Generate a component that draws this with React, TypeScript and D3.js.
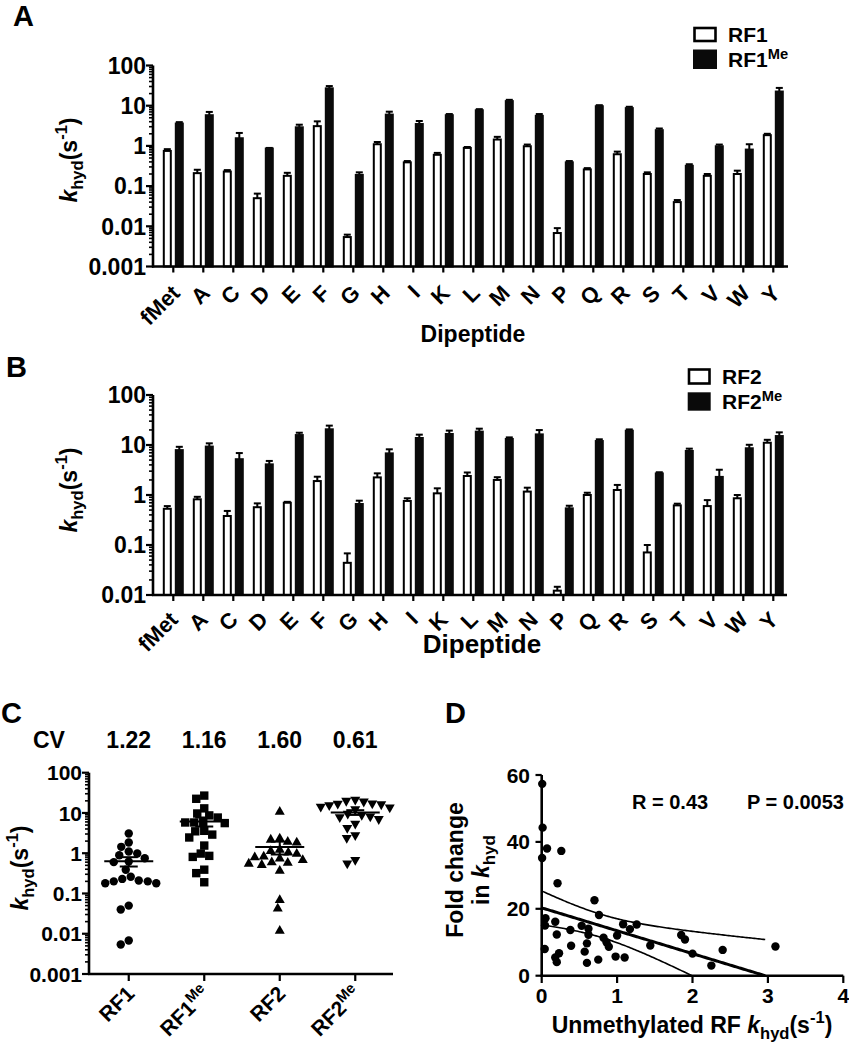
import React from "react";
import * as d3 from "d3";

const FONT = '"Liberation Sans", Arial, Helvetica, sans-serif';

// ---------- data ----------
const dipeptides = ["fMet", "A", "C", "D", "E", "F", "G", "H", "I", "K", "L", "M", "N", "P", "Q", "R", "S", "T", "V", "W", "Y"];
const rf1 = [0.75, 0.21, 0.23, 0.05, 0.18, 3.1, 0.0054, 1.1, 0.39, 0.6, 0.89, 1.44, 0.98, 0.0068, 0.26, 0.62, 0.2, 0.04, 0.18, 0.2, 1.85];
const rf1Err = [0.08, 0.045, 0.02, 0.015, 0.034, 0.98, 0.0008, 0.15, 0.03, 0.07, 0.05, 0.24, 0.1, 0.0022, 0.02, 0.1, 0.02, 0.005, 0.02, 0.042, 0.15];
const rf1Me = [3.6, 5.8, 1.55, 0.86, 2.9, 27, 0.19, 6, 3.5, 5.8, 7.7, 13, 5.6, 0.39, 9.7, 8.7, 2.46, 0.32, 0.98, 0.81, 22.5];
const rf1MeErr = [0.3, 1.2, 0.55, 0.03, 0.47, 3.8, 0.03, 1.1, 0.66, 0.4, 0.5, 1, 0.6, 0.03, 0.6, 0.7, 0.25, 0.03, 0.1, 0.29, 5.2];
const rf2 = [0.53, 0.82, 0.38, 0.57, 0.7, 1.9, 0.044, 2.25, 0.76, 1.08, 2.4, 2.0, 1.17, 0.0122, 1.0, 1.26, 0.071, 0.62, 0.6, 0.86, 11.1];
const rf2Err = [0.07, 0.1, 0.1, 0.11, 0.03, 0.42, 0.024, 0.46, 0.1, 0.28, 0.42, 0.27, 0.23, 0.0024, 0.11, 0.33, 0.029, 0.05, 0.19, 0.14, 1.6];
const rf2Me = [7.9, 9.3, 5.2, 4.1, 15.8, 20.6, 0.66, 6.8, 13.8, 16.6, 18.5, 13.2, 16.3, 0.54, 12, 19.3, 2.7, 7.6, 2.3, 8.6, 15.1];
const rf2MeErr = [1.3, 1.5, 1.7, 0.7, 1.8, 3.8, 0.11, 1.4, 2.3, 2.8, 2.7, 1.0, 3.6, 0.07, 1.0, 1.2, 0.15, 0.85, 0.9, 1.5, 2.8];

const logTicksA = [0.001, 0.01, 0.1, 1, 10, 100];
const logLabelsA = ["0.001", "0.01", "0.1", "1", "10", "100"];
const logTicksB = [0.01, 0.1, 1, 10, 100];
const logLabelsB = ["0.01", "0.1", "1", "10", "100"];
const groupsC = ["RF1", "RF1Me", "RF2", "RF2Me"];
const cvLabels = ["1.22", "1.16", "1.60", "0.61"];
const foldTicksY = [0, 20, 40, 60];
const foldTicksX = [0, 1, 2, 3, 4];
const statLabels = ["R = 0.43", "P = 0.0053"];

// ---------- helpers ----------
function KHyd({ fs }: { fs: number }) {
  const sub = fs * 0.72;
  return (
    <>
      <tspan fontStyle="italic">k</tspan>
      <tspan fontSize={sub} dy={fs * 0.28}>hyd</tspan>
      <tspan dy={-fs * 0.28}>(s</tspan>
      <tspan fontSize={sub} dy={-fs * 0.42}>-1</tspan>
      <tspan dy={fs * 0.42}>)</tspan>
    </>
  );
}

function Me({ fs }: { fs: number }) {
  return <tspan fontSize={fs * 0.7} dy={-fs * 0.4}>Me</tspan>;
}

function LogYAxis({ y, x, lo, hi, ticks, labels, fs, gap }: any) {
  const minors: number[] = [];
  const e0 = Math.round(Math.log10(lo));
  const e1 = Math.round(Math.log10(hi));
  for (let e = e0; e < e1; e++) for (let m = 2; m <= 9; m++) minors.push(m * Math.pow(10, e));
  return (
    <g>
      <line x1={x} x2={x} y1={y(lo) + 1} y2={y(hi)} stroke="#000" strokeWidth={2.6} />
      {minors.map((v, i) => (
        <line key={"m" + i} x1={x - 4} x2={x} y1={y(v)} y2={y(v)} stroke="#000" strokeWidth={1.6} />
      ))}
      {ticks.map((v: number, i: number) => (
        <g key={"t" + i}>
          <line x1={x - 7} x2={x} y1={y(v)} y2={y(v)} stroke="#000" strokeWidth={2.2} />
          <text x={x - gap} y={y(v)} dy="0.36em" textAnchor="end" fontSize={fs} fontWeight="bold">
            {labels[i]}
          </text>
        </g>
      ))}
    </g>
  );
}

function BarPanel({ x, y, lo, un, unErr, me, meErr, axisX0, axisX1, labFs, labDx, labDy }: any) {
  const base = y(lo);
  return (
    <g>
      {dipeptides.map((d, i) => {
        const c = (x(d) as number) + x.bandwidth() / 2;
        const wTop = y(un[i]);
        const wErr = y(un[i] + unErr[i]);
        const bTop = y(me[i]);
        const bErr = y(me[i] + meErr[i]);
        const wc = c - 6;
        const bc = c + 6;
        return (
          <g key={d}>
            <line x1={wc} x2={wc} y1={wTop} y2={wErr} stroke="#000" strokeWidth={2} />
            <line x1={wc - 3.5} x2={wc + 3.5} y1={wErr} y2={wErr} stroke="#000" strokeWidth={2} />
            <rect x={c - 9.5} y={wTop} width={7} height={base - wTop} fill="#fff" stroke="#000" strokeWidth={2} />
            <line x1={bc} x2={bc} y1={bTop} y2={bErr} stroke="#000" strokeWidth={2} />
            <line x1={bc - 3.5} x2={bc + 3.5} y1={bErr} y2={bErr} stroke="#000" strokeWidth={2} />
            <rect x={c + 2.5} y={bTop} width={7} height={base - bTop} fill="#0a0a0a" stroke="#0a0a0a" strokeWidth={2} />
          </g>
        );
      })}
      <line x1={axisX0} x2={axisX1} y1={base} y2={base} stroke="#000" strokeWidth={2.6} />
      {dipeptides.map((d) => {
        const c = (x(d) as number) + x.bandwidth() / 2;
        return (
          <g key={"xt" + d}>
            <line x1={c} x2={c} y1={base} y2={base + 6} stroke="#000" strokeWidth={2.2} />
            <text
              transform={`translate(${c + labDx},${base + labDy}) rotate(-45)`}
              textAnchor="end"
              fontSize={labFs}
              fontWeight="bold"
            >
              {d}
            </text>
          </g>
        );
      })}
    </g>
  );
}

function swarm(ys: number[], diam: number): number[] {
  const idx = ys.map((_, i) => i).sort((a, b) => ys[a] - ys[b]);
  const placed: { x: number; y: number }[] = [];
  const out = new Array(ys.length).fill(0);
  for (const i of idx) {
    const yy = ys[i];
    let chosen = 0;
    for (let k = 0; k < 400; k++) {
      const off = (k % 2 === 0 ? 1 : -1) * Math.ceil(k / 2) * 0.5;
      let ok = true;
      for (const p of placed) {
        const dx = p.x - off;
        const dy = p.y - yy;
        if (dx * dx + dy * dy < diam * diam) {
          ok = false;
          break;
        }
      }
      if (ok) {
        chosen = off;
        break;
      }
    }
    placed.push({ x: chosen, y: yy });
    out[i] = chosen;
  }
  return out;
}

function Marker({ kind, x, y }: { kind: number; x: number; y: number }) {
  if (kind === 0) return <circle cx={x} cy={y} r={4.2} fill="#000" />;
  if (kind === 1) return <rect x={x - 4.2} y={y - 4.2} width={8.4} height={8.4} fill="#000" />;
  if (kind === 2) return <path d={`M${x},${y - 5.2}L${x + 5},${y + 3.6}L${x - 5},${y + 3.6}Z`} fill="#000" />;
  return <path d={`M${x},${y + 5.2}L${x + 5},${y - 3.6}L${x - 5},${y - 3.6}Z`} fill="#000" />;
}

export default function App() {
  // ---------- Panel A ----------
  const xA = d3.scaleBand<string>().domain(dipeptides).range([158.3, 788.3]);
  const yA = d3.scaleLog().domain([0.001, 100]).range([266.5, 65.5]);
  // ---------- Panel B ----------
  const xB = d3.scaleBand<string>().domain(dipeptides).range([158.3, 788.3]);
  const yB = d3.scaleLog().domain([0.01, 100]).range([595, 395]);
  // ---------- Panel C ----------
  const xC = d3.scalePoint<string>().domain(groupsC).range([91, 393]).padding(0.5);
  const yC = d3.scaleLog().domain([0.001, 100]).range([974, 772.7]);
  const groupVals = [rf1, rf1Me, rf2, rf2Me];
  // ---------- Panel D ----------
  const xD = d3.scaleLinear().domain([0, 4]).range([541.7, 843.3]);
  const yD = d3.scaleLinear().domain([0, 60]).range([975.7, 775]);
  const foldPts = [
    ...dipeptides.map((_, i) => ({ x: rf1[i], y: rf1Me[i] / rf1[i] })),
    ...dipeptides.map((_, i) => ({ x: rf2[i], y: rf2Me[i] / rf2[i] })),
  ].filter((p) => p.x <= 4);
  const n = foldPts.length;
  const xbar = d3.mean(foldPts, (p) => p.x) as number;
  const ybar = d3.mean(foldPts, (p) => p.y) as number;
  const sxx = d3.sum(foldPts, (p) => (p.x - xbar) ** 2);
  const sxy = d3.sum(foldPts, (p) => (p.x - xbar) * (p.y - ybar));
  const slope = sxy / sxx;
  const icpt = ybar - slope * xbar;
  const sres = Math.sqrt(d3.sum(foldPts, (p) => (p.y - (icpt + slope * p.x)) ** 2) / (n - 2));
  const tcrit = 2.023;
  const xEnd = -icpt / slope;
  const xs = d3.range(0, xEnd, 0.02).concat([xEnd]);
  const hw = (x: number) => tcrit * sres * Math.sqrt(1 / n + (x - xbar) ** 2 / sxx);
  const line = d3
    .line<[number, number]>()
    .x((d) => xD(d[0]))
    .y((d) => yD(d[1]));
  const fitPath = line(xs.map((x) => [x, icpt + slope * x]));
  const upPath = line(xs.map((x) => [x, icpt + slope * x + hw(x)]));
  const loPath = line(xs.map((x) => [x, icpt + slope * x - hw(x)]));

  return (
    <svg
      width={849}
      height={1050}
      style={{ position: "absolute", left: 0, top: 0, background: "#fff" }}
      fontFamily={FONT}
    >
      <rect x={0} y={0} width={849} height={1050} fill="#fff" />
      {/* Panel letters */}
      <text x={13} y={26} fontSize={29} fontWeight="bold">A</text>
      <text x={6} y={377} fontSize={29} fontWeight="bold">B</text>
      <text x={1} y={723} fontSize={29} fontWeight="bold">C</text>
      <text x={445} y={723} fontSize={29} fontWeight="bold">D</text>

      {/* ===== Panel A ===== */}
      <BarPanel x={xA} y={yA} lo={0.001} un={rf1} unErr={rf1Err} me={rf1Me} meErr={rf1MeErr} axisX0={152} axisX1={788} labFs={22} labDx={8} labDy={28} />
      <LogYAxis y={yA} x={153} lo={0.001} hi={100} ticks={logTicksA} labels={logLabelsA} fs={23} gap={7} />
      <text transform="translate(77,160) rotate(-90)" textAnchor="middle" fontSize={23} fontWeight="bold">
        <KHyd fs={23} />
      </text>
      <text x={473} y={342} textAnchor="middle" fontSize={23} fontWeight="bold">Dipeptide</text>
      <rect x={694.5} y={28} width={21} height={13} fill="#fff" stroke="#000" strokeWidth={2.6} />
      <rect x={693} y={49.5} width={24} height={19.5} fill="#0a0a0a" />
      <text x={728} y={41.5} fontSize={21} fontWeight="bold">RF1</text>
      <text x={728} y={67} fontSize={21} fontWeight="bold">RF1<Me fs={21} /></text>

      {/* ===== Panel B ===== */}
      <BarPanel x={xB} y={yB} lo={0.01} un={rf2} unErr={rf2Err} me={rf2Me} meErr={rf2MeErr} axisX0={152} axisX1={787} labFs={22} labDx={6} labDy={26} />
      <LogYAxis y={yB} x={153} lo={0.01} hi={100} ticks={logTicksB} labels={logLabelsB} fs={23} gap={7} />
      <text transform="translate(77,490) rotate(-90)" textAnchor="middle" fontSize={23} fontWeight="bold">
        <KHyd fs={23} />
      </text>
      <text x={482} y={653} textAnchor="middle" fontSize={26} fontWeight="bold">Dipeptide</text>
      <rect x={689} y={369.5} width={20.5} height={14} fill="#fff" stroke="#000" strokeWidth={2.6} />
      <rect x={687.7} y={392.3} width={23} height={18.4} fill="#0a0a0a" />
      <text x={722} y={384} fontSize={21} fontWeight="bold">RF2</text>
      <text x={722} y={409} fontSize={21} fontWeight="bold">RF2<Me fs={21} /></text>

      {/* ===== Panel C ===== */}
      <text x={33} y={748} fontSize={23} fontWeight="bold">CV</text>
      {groupsC.map((g, gi) => (
        <text key={"cv" + g} x={xC(g) as number} y={748} textAnchor="middle" fontSize={23} fontWeight="bold">
          {cvLabels[gi]}
        </text>
      ))}
      {groupsC.map((g, gi) => {
        const vals = groupVals[gi];
        const ys = vals.map((v) => yC(v));
        const offs = swarm(ys, 8.6);
        const cx = xC(g) as number;
        const mean = d3.mean(vals) as number;
        const sem = (d3.deviation(vals) as number) / Math.sqrt(vals.length);
        return (
          <g key={"grp" + g}>
            {vals.map((v, i) => (
              <Marker key={i} kind={gi} x={cx + offs[i]} y={ys[i]} />
            ))}
            <line x1={cx - 24.5} x2={cx + 24.5} y1={yC(mean)} y2={yC(mean)} stroke="#000" strokeWidth={2} />
            <line x1={cx} x2={cx} y1={yC(mean - sem)} y2={yC(mean + sem)} stroke="#000" strokeWidth={2} />
            <line x1={cx - 9} x2={cx + 9} y1={yC(mean - sem)} y2={yC(mean - sem)} stroke="#000" strokeWidth={2} />
            <line x1={cx - 9} x2={cx + 9} y1={yC(mean + sem)} y2={yC(mean + sem)} stroke="#000" strokeWidth={2} />
          </g>
        );
      })}
      <LogYAxis y={yC} x={89} lo={0.001} hi={100} ticks={logTicksA} labels={logLabelsA} fs={21} gap={7} />
      <line x1={88} x2={393} y1={974} y2={974} stroke="#000" strokeWidth={2.6} />
      {groupsC.map((g) => {
        const cx = xC(g) as number;
        const isMe = g.endsWith("Me");
        return (
          <g key={"cx" + g}>
            <line x1={cx} x2={cx} y1={974} y2={981} stroke="#000" strokeWidth={2.2} />
            <text transform={`translate(${cx + 7},${974 + 21}) rotate(-45)`} textAnchor="end" fontSize={21} fontWeight="bold">
              {isMe ? g.slice(0, 3) : g}
              {isMe ? <Me fs={21} /> : null}
            </text>
          </g>
        );
      })}
      <text transform="translate(28,868) rotate(-90)" textAnchor="middle" fontSize={23} fontWeight="bold">
        <KHyd fs={23} />
      </text>

      {/* ===== Panel D ===== */}
      <defs>
        <clipPath id="clipD">
          <rect x={541.7} y={775} width={301.6} height={200.7} />
        </clipPath>
      </defs>
      <g clipPath="url(#clipD)">
        <path d={upPath || ""} fill="none" stroke="#000" strokeWidth={1.6} />
        <path d={loPath || ""} fill="none" stroke="#000" strokeWidth={1.6} />
        <path d={fitPath || ""} fill="none" stroke="#000" strokeWidth={3} />
      </g>
      <line x1={541.7} x2={541.7} y1={976.5} y2={775} stroke="#000" strokeWidth={2.6} />
      <line x1={540.5} x2={843.3} y1={975.7} y2={975.7} stroke="#000" strokeWidth={2.6} />
      {foldTicksY.map((v) => (
        <g key={"dy" + v}>
          <line x1={535.5} x2={541.7} y1={yD(v)} y2={yD(v)} stroke="#000" strokeWidth={2.2} />
          <text x={530} y={yD(v)} dy="0.36em" textAnchor="end" fontSize={21} fontWeight="bold">{v}</text>
        </g>
      ))}
      {foldTicksX.map((v) => (
        <g key={"dx" + v}>
          <line x1={xD(v)} x2={xD(v)} y1={975.7} y2={983} stroke="#000" strokeWidth={2.2} />
          <text x={xD(v)} y={1003} textAnchor="middle" fontSize={21} fontWeight="bold">{v}</text>
        </g>
      ))}
      {foldPts.map((p, i) => (
        <circle key={"fp" + i} cx={xD(p.x)} cy={yD(p.y)} r={4.2} fill="#000" />
      ))}
      <text x={632} y={809} fontSize={20} fontWeight="bold">{statLabels[0]}</text>
      <text x={747} y={809} fontSize={20} fontWeight="bold">{statLabels[1]}</text>
      <text transform="translate(463,870) rotate(-90)" textAnchor="middle" fontSize={23} fontWeight="bold">Fold change</text>
      <text transform="translate(489,870) rotate(-90)" textAnchor="middle" fontSize={23} fontWeight="bold">
        in <tspan fontStyle="italic">k</tspan>
        <tspan fontSize={17} dy={6}>hyd</tspan>
      </text>
      <text x={692} y={1033} textAnchor="middle" fontSize={23} fontWeight="bold">
        Unmethylated RF <KHyd fs={23} />
      </text>
    </svg>
  );
}
